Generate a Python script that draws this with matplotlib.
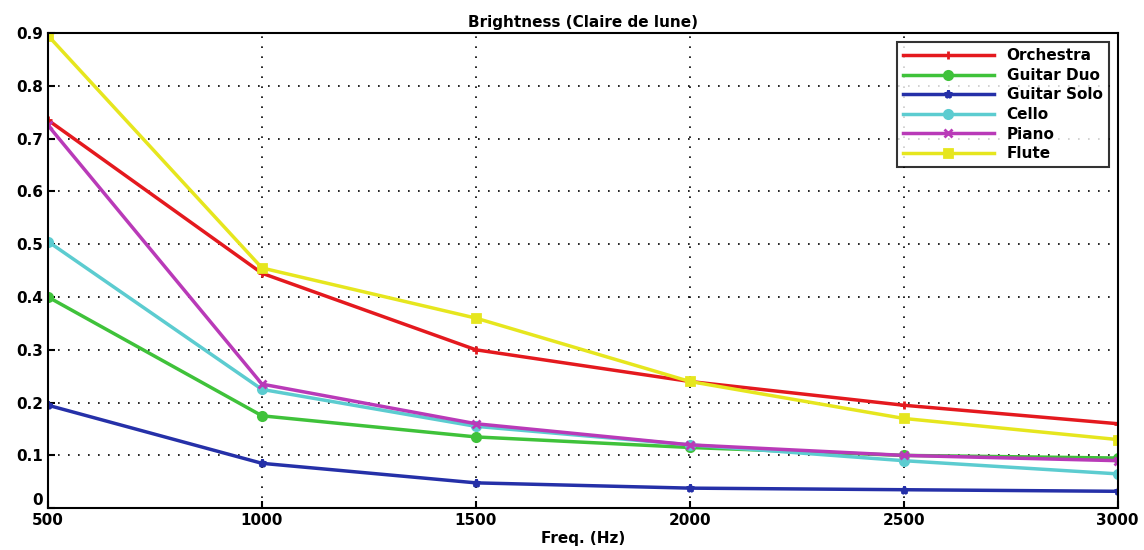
import matplotlib
matplotlib.use("Agg")
import matplotlib.pyplot as plt

# data
freqs = [500, 1000, 1500, 2000, 2500, 3000]
orchestra = [0.735, 0.445, 0.30, 0.24, 0.195, 0.16]
guitar_duo = [0.40, 0.175, 0.135, 0.115, 0.10, 0.095]
guitar_solo = [0.195, 0.085, 0.048, 0.038, 0.035, 0.032]
cello = [0.505, 0.225, 0.155, 0.12, 0.09, 0.065]
piano = [0.725, 0.235, 0.16, 0.12, 0.10, 0.09]
flute = [0.895, 0.455, 0.36, 0.24, 0.17, 0.13]

series = [
    ("Orchestra", orchestra, "#e4191e", "+"),
    ("Guitar Duo", guitar_duo, "#3fc23a", "o"),
    ("Guitar Solo", guitar_solo, "#2530a8", "*"),
    ("Cello", cello, "#5cccd0", "o"),
    ("Piano", piano, "#b93ab8", "x"),
    ("Flute", flute, "#e6e61e", "s"),
]

fig = plt.figure(figsize=(11.44, 5.5), dpi=100)
ax = fig.add_axes([0.042, 0.076, 0.935, 0.864])

for name, vals, col, mk in series:
    ax.plot(freqs, vals, color=col, marker=mk, lw=2.5, ms=6, mew=2, label=name)

ax.set_xlim(500, 3000)
ax.set_ylim(0, 0.9)
ax.set_xticks(freqs)
ax.set_yticks([i / 10 for i in range(10)])
ax.set_yticklabels(["0"] + ["%.1f" % (i / 10) for i in range(1, 10)])
ax.grid(True, color="black", linestyle=(0, (1, 5)), lw=1.2)
ax.tick_params(labelsize=11, width=1.5, length=5, direction="in")
for lbl in ax.get_xticklabels() + ax.get_yticklabels():
    lbl.set_fontweight("bold")
# lift the "0" so it sits above the "500" like in the source
ax.get_yticklabels()[0].set_verticalalignment("bottom")
for s in ax.spines.values():
    s.set_linewidth(1.5)

ax.set_title("Brightness (Claire de lune)", fontsize=11, fontweight="bold", pad=4)
ax.set_xlabel("Freq. (Hz)", fontsize=11, fontweight="bold", labelpad=2)

leg = ax.legend(loc="upper right", fontsize=11, frameon=True, fancybox=False,
                borderaxespad=0.6, handlelength=6, labelspacing=0.3)
leg.get_frame().set_edgecolor("black")
leg.get_frame().set_linewidth(1.5)
for t in leg.get_texts():
    t.set_fontweight("bold")

fig.savefig("out.png", dpi=100)
